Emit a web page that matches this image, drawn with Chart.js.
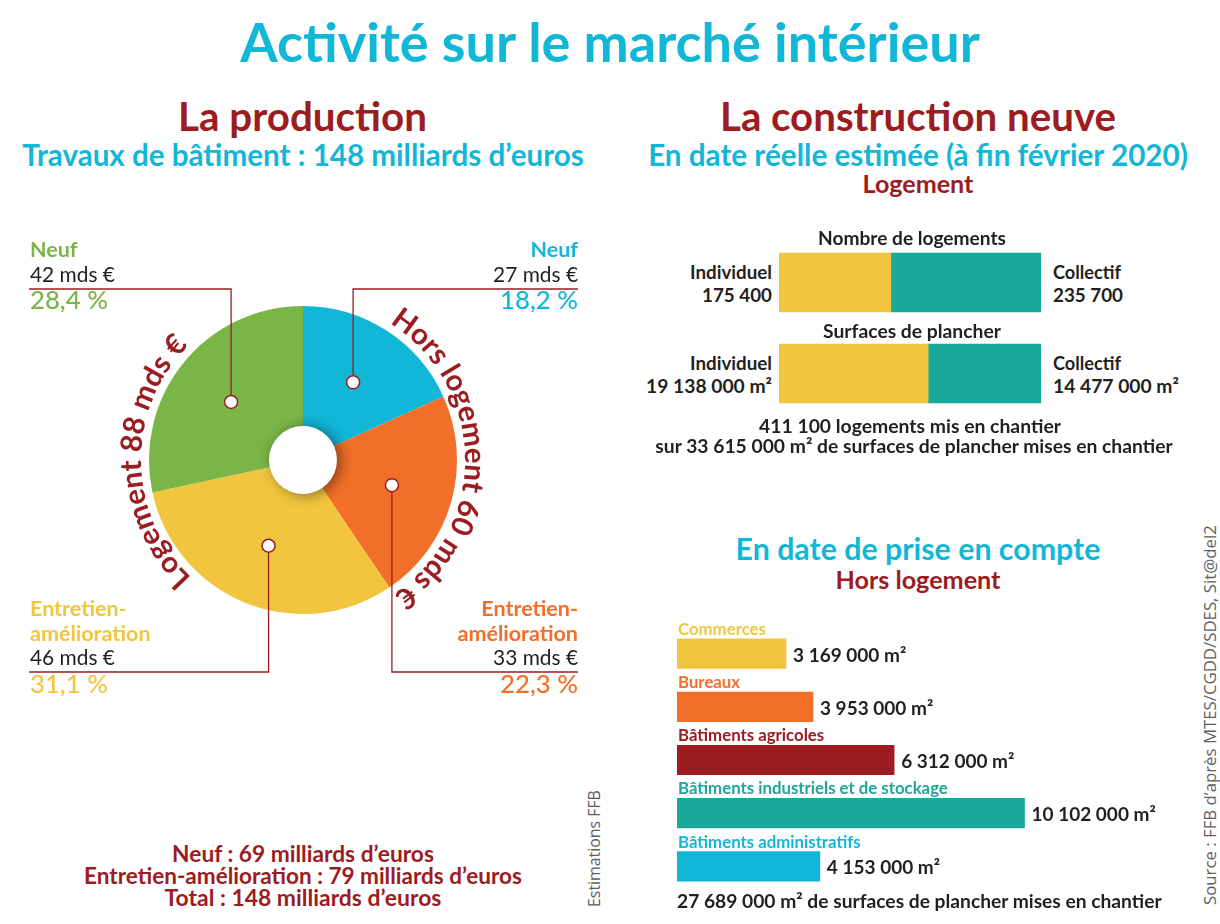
<!DOCTYPE html>
<html lang="fr">
<head>
<meta charset="utf-8">
<title>Activité sur le marché intérieur</title>
<script src="https://cdn.jsdelivr.net/npm/chart.js@4.4.1/dist/chart.umd.min.js"></script>
<style>
  html, body { margin: 0; padding: 0; background: #fff; }
  body { width: 1220px; height: 924px; position: relative; overflow: hidden; font-family: Lato, sans-serif; }
  canvas { position: absolute; }
  .t { position: absolute; white-space: nowrap; }
</style>
</head>
<body>
<canvas id="pieChart" width="600" height="520" style="left:0;top:200px;width:600px;height:520px"></canvas>
<canvas id="logChart" width="262" height="182" style="left:779px;top:237px;width:262px;height:182px"></canvas>
<canvas id="hlChart" width="516" height="300" style="left:677px;top:600px;width:516px;height:300px"></canvas>
<script>
// Production, mds €, clockwise from 12 o'clock
const pieSegments = ['Neuf', 'Entretien-amélioration', 'Entretien-amélioration', 'Neuf'];
const pieGroups = ['Hors logement', 'Hors logement', 'Logement', 'Logement'];
const pieValues = [27, 33, 46, 42];

// Construction neuve, logement
const logCategories = ['Nombre de logements', 'Surfaces de plancher'];
const logIndividuel = [175400, 19138000];
const logCollectif = [235700, 14477000];
const logUnits = ['', ' m²'];

// Construction neuve, hors logement (m²)
const hlCategories = ['Commerces', 'Bureaux', 'Bâtiments agricoles', 'Bâtiments industriels et de stockage', 'Bâtiments administratifs'];
const hlValues = [3169000, 3953000, 6312000, 10102000, 4153000];

const CYAN = '#12b7d7', RED = '#9b1c21', GREEN = '#7ab547', YELLOW = '#f1c53d',
      ORANGE = '#f26f29', TEAL = '#18a99b', DARK = '#231f20', GREY = '#5d5e60';
const pieColors = [CYAN, ORANGE, YELLOW, GREEN];
const hlColors = [YELLOW, ORANGE, RED, TEAL, CYAN];

const fmt = n => String(n).replace(/\B(?=(\d{3})+(?!\d))/g, ' ');
const sum = a => a.reduce((s, v) => s + v, 0);

// text helper: x anchor + baseline y, optional fitted width
function addText(str, x, baseY, opt) {
  const el = document.createElement('div');
  el.className = 't';
  el.style.font = `${opt.weight || 700} ${opt.size}px ${opt.family || 'Lato'}, sans-serif`;
  el.style.color = opt.color || DARK;
  el.textContent = str;
  const mark = document.createElement('span');
  mark.style.cssText = 'display:inline-block;width:0;height:0;';
  el.appendChild(mark);
  document.body.appendChild(el);
  if (opt.w) {
    const w0 = el.getBoundingClientRect().width;
    el.style.fontSize = (opt.size * opt.w / w0) + 'px';
  }
  const w = el.getBoundingClientRect().width;
  const align = opt.align || 'left';
  el.style.left = (align === 'left' ? x : align === 'center' ? x - w / 2 : x - w) + 'px';
  el.style.top = (baseY - mark.offsetTop) + 'px';
  return el;
}

function addVText(str, cx, bottomY, opt) {
  const el = addText(str, 0, 0, opt);
  const h = el.offsetHeight;
  el.style.transformOrigin = '0 0';
  el.style.transform = 'rotate(-90deg)';
  el.style.left = (cx - h / 2) + 'px';
  el.style.top = bottomY + 'px';
}

const total = sum(pieValues);
const groupSum = g => sum(pieValues.filter((v, i) => pieGroups[i] === g));
const segSum = s => sum(pieValues.filter((v, i) => pieSegments[i] === s));

// headings
addText('Activité sur le marché intérieur', 610, 62, { align: 'center', w: 740, size: 56, color: CYAN });
addText('La production', 302.5, 131, { align: 'center', w: 249, size: 42, color: RED });
addText(`Travaux de bâtiment\u202f: ${total} milliards d’euros`, 303, 166, { align: 'center', w: 562, size: 27, color: CYAN });
addText('La construction neuve', 918, 131, { align: 'center', w: 396, size: 42, color: RED });
addText('En date réelle estimée (à fin février 2020)', 918, 166, { align: 'center', w: 540, size: 27, color: CYAN });
addText('Logement', 918, 193, { align: 'center', w: 111, size: 22, color: RED });
addText('En date de prise en compte', 918, 560, { align: 'center', w: 365, size: 27, color: CYAN });
addText('Hors logement', 918, 589, { align: 'center', w: 165, size: 22, color: RED });

// pie callouts
const callouts = [
  { side: 'right', nameY: 257, valueY: 282, ruleY: 289, pctY: 309 },
  { side: 'right', nameY: 616, valueY: 665, ruleY: 672, pctY: 693 },
  { side: 'left', nameY: 616, valueY: 665, ruleY: 672, pctY: 693 },
  { side: 'left', nameY: 257, valueY: 282, ruleY: 289, pctY: 309 }
];
const EDGE_L = 29, EDGE_R = 578;
pieSegments.forEach((name, i) => {
  const c = callouts[i];
  const x = c.side === 'left' ? EDGE_L + 1 : EDGE_R;
  const align = c.side;
  name.replace('-', '-\n').split('\n').forEach((line, k) => {
    addText(line, x, c.nameY + k * 25, { align, size: 21.5, color: pieColors[i] });
  });
  addText(`${pieValues[i]} mds €`, x, c.valueY, { align, w: 85, size: 20, weight: 400 });
  const pct = (pieValues[i] / total * 100).toFixed(1).replace('.', ',') + ' %';
  addText(pct, x, c.pctY, { align, w: 78, size: 24, weight: 500, color: pieColors[i] });
});

addText(`Neuf : ${segSum('Neuf')} milliards d’euros`, 303, 862, { align: 'center', w: 262, size: 20, color: RED });
addText(`Entretien-amélioration : ${segSum('Entretien-amélioration')} milliards d’euros`, 303, 884, { align: 'center', w: 438, size: 20, color: RED });
addText(`Total : ${total} milliards d’euros`, 303, 906, { align: 'center', w: 277, size: 20, color: RED });

addVText('Estimations FFB', 594, 907, { w: 117, size: 15, weight: 400, family: 'Open Sans', color: GREY });
addVText('Source : FFB d’après MTES/CGDD/SDES, Sit@del2', 1209, 905, { w: 380, size: 15, weight: 400, family: 'Open Sans', color: GREY });

// logement labels
const logTitleY = [245, 338], logLine1Y = [279, 370], logLine2Y = [302, 393];
const logTitleW = [188, 178], logValW = [70, 126];
logCategories.forEach((cat, i) => {
  addText(cat, 912, logTitleY[i], { align: 'center', w: logTitleW[i], size: 18 });
  addText('Individuel', 772, logLine1Y[i], { align: 'right', w: 82, size: 18 });
  addText(fmt(logIndividuel[i]) + logUnits[i], 772, logLine2Y[i], { align: 'right', w: logValW[i], size: 18 });
  addText('Collectif', 1053, logLine1Y[i], { align: 'left', w: 68, size: 18 });
  addText(fmt(logCollectif[i]) + logUnits[i], 1053, logLine2Y[i], { align: 'left', w: logValW[i], size: 18 });
});
addText(`${fmt(logIndividuel[0] + logCollectif[0])} logements mis en chantier`, 910, 433, { align: 'center', w: 302, size: 18 });
addText(`sur ${fmt(logIndividuel[1] + logCollectif[1])} m² de surfaces de plancher mises en chantier`, 914, 453, { align: 'center', w: 518, size: 18 });
addText(`${fmt(sum(hlValues))} m² de surfaces de plancher mises en chantier`, 677, 908, { w: 485, size: 19 });

// ---- pie ----
function arcText(ctx, text, cx, cy, r, center) {
  const totalW = ctx.measureText(text).width;
  let a = center - totalW / r / 2;
  for (const ch of text) {
    const w = ctx.measureText(ch).width;
    const mid = a + w / 2 / r;
    ctx.save();
    ctx.translate(cx + r * Math.cos(mid), cy + r * Math.sin(mid));
    ctx.rotate(mid + Math.PI / 2);
    ctx.fillText(ch, 0, 0);
    ctx.restore();
    a += w / r;
  }
}

const pieDecor = {
  id: 'pieDecor',
  afterDatasetsDraw(chart) {
    const ctx = chart.ctx;
    const arcs = chart.getDatasetMeta(0).data;
    const { x: cx, y: cy, innerRadius, outerRadius } = arcs[0];
    const top = chart.canvas.offsetTop;

    // hole shadow
    ctx.save();
    ctx.beginPath();
    ctx.arc(cx, cy, innerRadius, 0, Math.PI * 2);
    ctx.fillStyle = '#fff';
    ctx.shadowColor = 'rgba(0,0,0,0.45)';
    ctx.shadowBlur = 14;
    ctx.shadowOffsetX = 4;
    ctx.shadowOffsetY = 1;
    ctx.fill();
    ctx.restore();

    // leader lines + dots
    arcs.forEach((arc, i) => {
      const mid = (arc.startAngle + arc.endAngle) / 2;
      const r = outerRadius * 0.6;
      const dx = cx + r * Math.cos(mid), dy = cy + r * Math.sin(mid);
      const ruleY = callouts[i].ruleY - top;
      const edge = callouts[i].side === 'left' ? EDGE_L : EDGE_R;
      ctx.save();
      ctx.strokeStyle = RED;
      ctx.lineWidth = 1.3;
      ctx.beginPath();
      ctx.moveTo(dx, dy);
      ctx.lineTo(dx, ruleY);
      ctx.lineTo(edge, ruleY);
      ctx.stroke();
      ctx.beginPath();
      ctx.arc(dx, dy, 6.5, 0, Math.PI * 2);
      ctx.fillStyle = '#fff';
      ctx.fill();
      ctx.lineWidth = 1.5;
      ctx.stroke();
      ctx.restore();
    });

    // curved group labels
    ctx.save();
    ctx.fillStyle = RED;
    ctx.font = 'bold 29.5px Lato';
    ctx.textAlign = 'center';
    ctx.textBaseline = 'alphabetic';
    const rb = outerRadius + 8;
    arcText(ctx, `Logement ${groupSum('Logement')} mds €`, cx, cy, rb, Math.PI * 179 / 180);
    arcText(ctx, `Hors logement ${groupSum('Hors logement')} mds €`, cx, cy, rb, -Math.PI / 180);
    ctx.restore();
  }
};

new Chart(document.getElementById('pieChart'), {
  type: 'doughnut',
  data: {
    labels: pieSegments,
    datasets: [{ data: pieValues, backgroundColor: pieColors, borderWidth: 0, hoverOffset: 0, offset: 0 }]
  },
  options: {
    responsive: false,
    animation: false,
    cutout: '22%',
    layout: { padding: { left: 149, right: 143, top: 106, bottom: 106 } },
    plugins: { legend: { display: false }, tooltip: { enabled: false } }
  },
  plugins: [pieDecor]
});

// ---- logement stacked bars (shares) ----
const logShareInd = logIndividuel.map((v, i) => v / (v + logCollectif[i]) * 100);
const logShareCol = logCollectif.map((v, i) => v / (v + logIndividuel[i]) * 100);

new Chart(document.getElementById('logChart'), {
  type: 'bar',
  data: {
    labels: logCategories,
    datasets: [
      { label: 'Individuel', data: logShareInd, backgroundColor: YELLOW, barThickness: 59, borderWidth: 0 },
      { label: 'Collectif', data: logShareCol, backgroundColor: TEAL, barThickness: 59, borderWidth: 0 }
    ]
  },
  options: {
    indexAxis: 'y',
    responsive: false,
    animation: false,
    layout: { padding: 0 },
    scales: {
      x: { stacked: true, display: false, min: 0, max: 100 },
      y: { stacked: true, display: false }
    },
    plugins: { legend: { display: false }, tooltip: { enabled: false } }
  }
});

// ---- hors logement bars ----
const hlLabels = {
  id: 'hlLabels',
  afterDatasetsDraw(chart) {
    const ctx = chart.ctx;
    ctx.save();
    ctx.textBaseline = 'alphabetic';
    chart.getDatasetMeta(0).data.forEach((bar, i) => {
      ctx.fillStyle = hlColors[i];
      ctx.font = 'bold 16.8px Lato';
      ctx.textAlign = 'left';
      ctx.fillText(hlCategories[i], bar.base + 1, bar.y - bar.height / 2 - 4);
      ctx.fillStyle = DARK;
      ctx.font = 'bold 19px Lato';
      ctx.fillText(fmt(hlValues[i]) + ' m²', bar.x + 7, bar.y + 8);
    });
    ctx.restore();
  }
};

new Chart(document.getElementById('hlChart'), {
  type: 'bar',
  data: {
    labels: hlCategories,
    datasets: [{ data: hlValues, backgroundColor: hlColors, barThickness: 29.5, borderWidth: 0 }]
  },
  options: {
    indexAxis: 'y',
    responsive: false,
    animation: false,
    layout: { padding: { top: 27, bottom: 7, left: 0, right: 0 } },
    scales: {
      x: { display: false, min: 0, max: 15000000 },
      y: { display: false }
    },
    plugins: { legend: { display: false }, tooltip: { enabled: false } }
  },
  plugins: [hlLabels]
});
</script>
</body>
</html>
